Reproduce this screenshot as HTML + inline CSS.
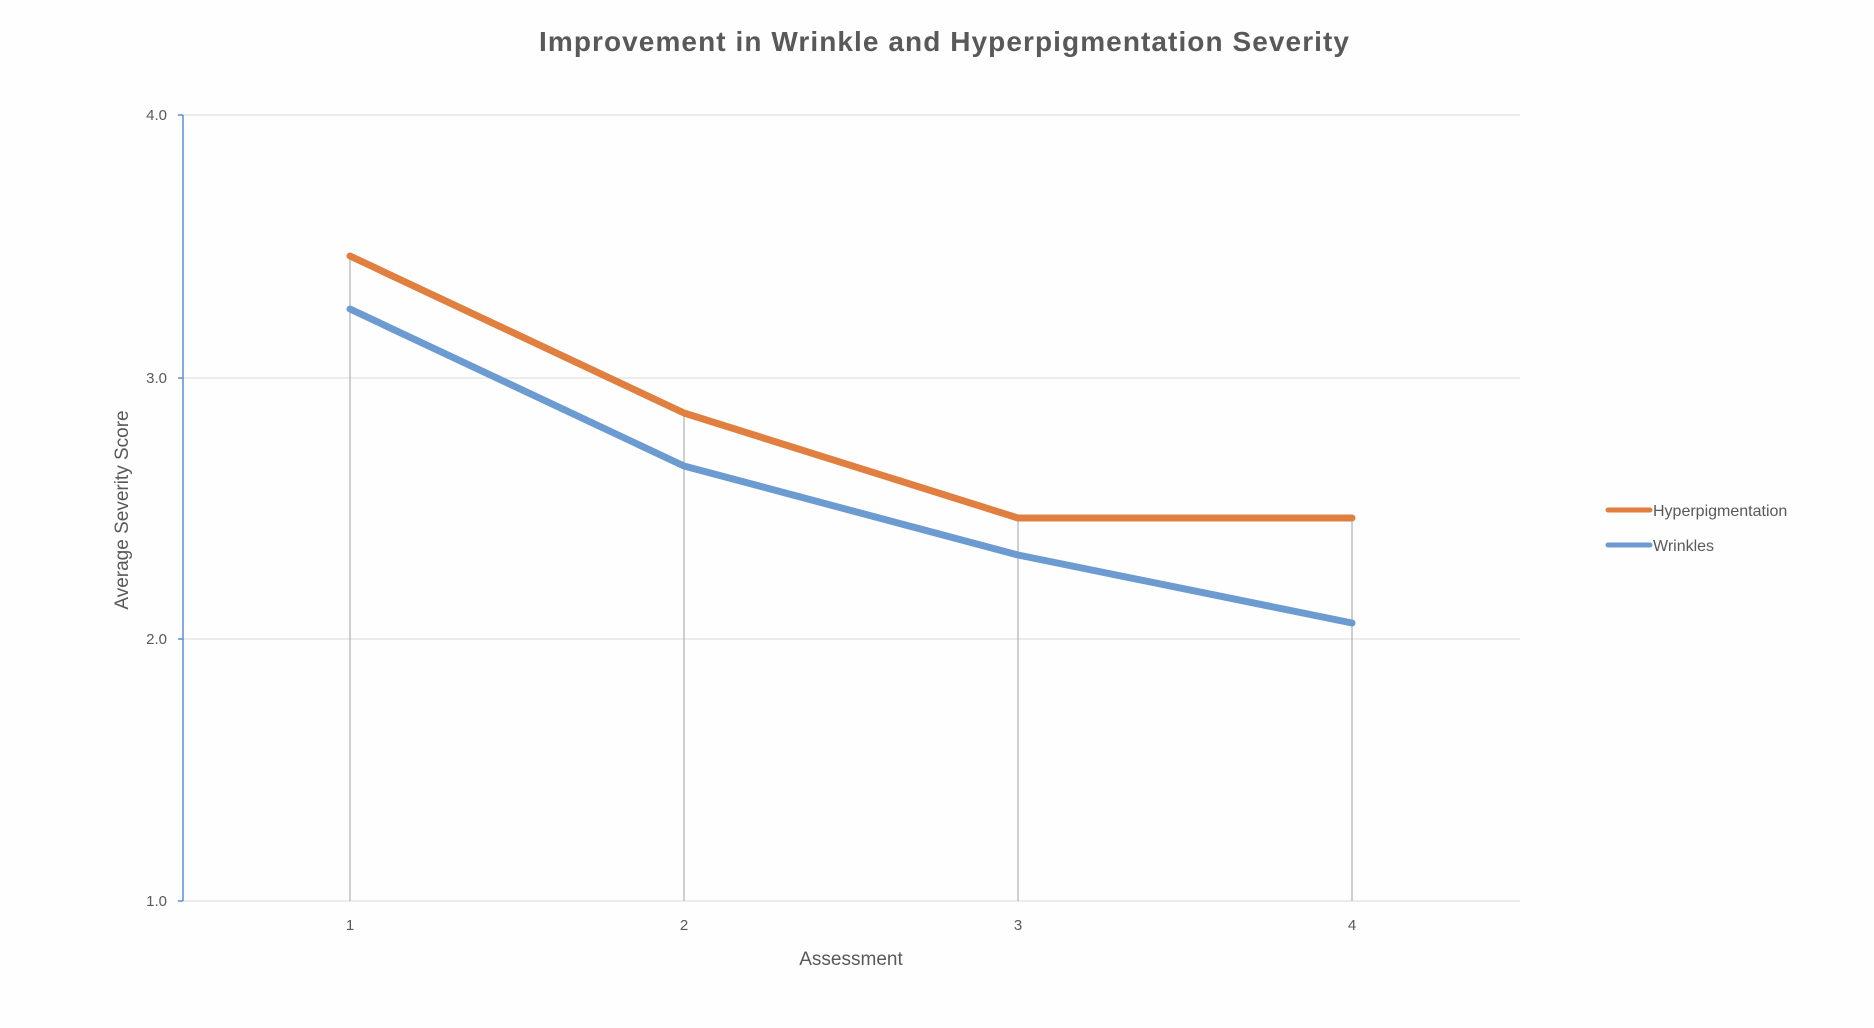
<!DOCTYPE html>
<html><head><meta charset="utf-8"><style>
html,body{margin:0;padding:0;background:#fefefe;}
svg{display:block;font-family:"Liberation Sans",sans-serif;}
</style></head><body>
<svg width="1874" height="1028" viewBox="0 0 1874 1028">
<rect width="1874" height="1028" fill="#fefefe"/>
<text x="944" y="51" text-anchor="middle" font-size="28" font-weight="bold" fill="#595959" textLength="810" lengthAdjust="spacing">Improvement in Wrinkle and Hyperpigmentation  Severity</text>
<g stroke="#d9d9d9" stroke-width="1">
<line x1="183" y1="115" x2="1520" y2="115"/>
<line x1="183" y1="378" x2="1520" y2="378"/>
<line x1="183" y1="639" x2="1520" y2="639"/>
<line x1="183" y1="901" x2="1520" y2="901"/>
</g>
<g stroke="#a0a0a0" stroke-width="1">
<line x1="350" y1="256" x2="350" y2="901"/>
<line x1="684" y1="413" x2="684" y2="901"/>
<line x1="1018" y1="518" x2="1018" y2="901"/>
<line x1="1352" y1="518" x2="1352" y2="901"/>
</g>
<line x1="183" y1="115" x2="183" y2="901" stroke="#5b8fd6" stroke-width="1.5"/>
<g stroke="#5b8fd6" stroke-width="1.5"><line x1="178" y1="115" x2="183" y2="115"/><line x1="178" y1="378" x2="183" y2="378"/><line x1="178" y1="639" x2="183" y2="639"/><line x1="178" y1="901" x2="183" y2="901"/></g>
<g font-size="15" fill="#595959" text-anchor="end">
<text x="167" y="120">4.0</text><text x="167" y="383">3.0</text><text x="167" y="644">2.0</text><text x="167" y="906">1.0</text>
</g>
<g font-size="15" fill="#595959" text-anchor="middle">
<text x="350" y="930">1</text><text x="684" y="930">2</text><text x="1018" y="930">3</text><text x="1352" y="930">4</text>
</g>
<text x="851" y="965" text-anchor="middle" font-size="19" fill="#595959">Assessment</text>
<text transform="translate(128,510) rotate(-90)" text-anchor="middle" font-size="19" fill="#595959">Average Severity Score</text>
<polyline points="350,309 684,466 1018,555 1352,623" fill="none" stroke="#6c9bd2" stroke-width="7" stroke-linejoin="round" stroke-linecap="round"/>
<polyline points="350,256 684,413 1018,518 1352,518" fill="none" stroke="#e07f3f" stroke-width="7" stroke-linejoin="round" stroke-linecap="round"/>
<line x1="1608" y1="510" x2="1650" y2="510" stroke="#e07f3f" stroke-width="5" stroke-linecap="round"/>
<line x1="1608" y1="545" x2="1650" y2="545" stroke="#6c9bd2" stroke-width="5" stroke-linecap="round"/>
<g font-size="16" fill="#595959"><text x="1653" y="516">Hyperpigmentation</text><text x="1653" y="551">Wrinkles</text></g>
</svg>
</body></html>
